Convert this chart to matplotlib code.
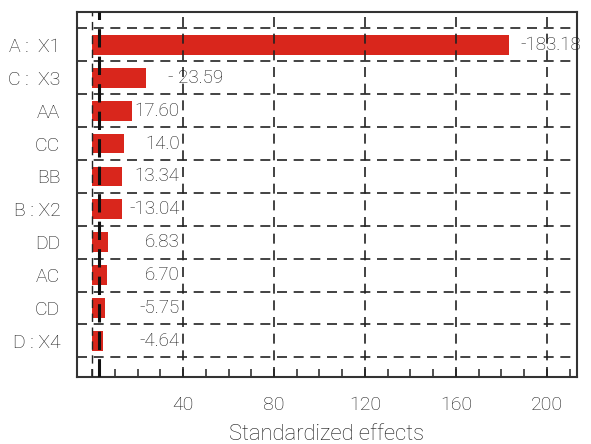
import matplotlib
matplotlib.use("Agg")
import matplotlib.pyplot as plt
from matplotlib.ticker import MultipleLocator, FixedLocator

plt.rcParams['font.family'] = ['Roboto', 'DejaVu Sans']
plt.rcParams['font.weight'] = 'light'
plt.rcParams['axes.labelweight'] = 'light'

terms = ["A :  X1", "C :  X3", "AA", "CC", "BB", "B : X2", "DD", "AC", "CD", "D : X4"]
effects = [183.18, 23.59, 17.60, 14.0, 13.34, 13.04, 6.83, 6.70, 5.75, 4.64]
value_labels = ["-183.18", "- 23.59", "17.60", "14.0", "13.34", "-13.04", "6.83", "6.70", "-5.75", "-4.64"]
x_ticks = [40, 80, 120, 160, 200]
grid_x = [0, 40, 80, 120, 160, 200]
threshold = 3.1

fig = plt.figure(figsize=(5.91, 4.44), dpi=100)
ax = fig.add_axes([77/591, 1 - 377/444, 500/591, 365/444])

txt = '#1a1a1a'
ypos = list(range(len(terms)))
ax.barh(ypos, effects, height=0.6, color='#d9261c', zorder=2)

# grid lines
for gx in grid_x:
    ax.axvline(gx, color='#222222', lw=1.2 if gx else 1.0, ls=(0, (6, 4)), zorder=3)
for gy in [i - 0.5 for i in range(len(terms) + 1)]:
    ax.axhline(gy, color='#222222', lw=1.2, ls=(0, (6, 4)), zorder=1)
ax.axvline(threshold, color='#111111', lw=2.2, ls=(0, (6, 3)), zorder=4)

for i, (v, lab) in enumerate(zip(effects, value_labels)):
    if v > 20:
        xt = v + 5 if v > 100 else v + 10
        ax.text(xt, i, lab, ha='left', va='center', fontsize=13.5, color=txt, zorder=5)
    else:
        ax.text(38.5, i, lab, ha='right', va='center', fontsize=13.5, color=txt, zorder=5)

ax.set_xlim(-6.6, 213.2)
ax.set_ylim(10.1, -1.0)
ax.set_yticks(ypos)
ax.set_yticklabels(terms, fontsize=14, color=txt)
ax.tick_params(axis='y', length=0, pad=12)
ax.xaxis.set_major_locator(FixedLocator(x_ticks))
ax.xaxis.set_minor_locator(MultipleLocator(10))
ax.tick_params(axis='x', which='both', direction='in', length=6, width=1.2, color='#333333',
               labelsize=14, labelcolor=txt, pad=14)
ax.set_xlabel("Standardized effects", fontsize=15.8, color=txt, labelpad=7)
for s in ax.spines.values():
    s.set_linewidth(1.5)
    s.set_color('#333333')

fig.savefig("out.png", dpi=100)
